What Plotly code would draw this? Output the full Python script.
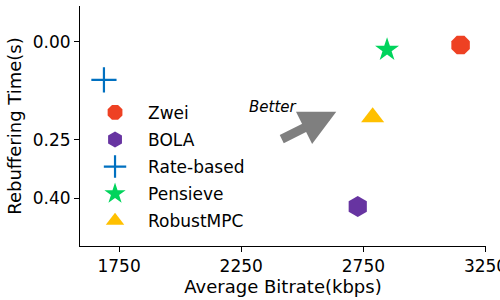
import plotly.graph_objects as go

methods = ["Zwei", "BOLA", "Rate-based", "Pensieve", "RobustMPC"]
bitrate = [3148, 2727, 1688, 2847, 2788]
rebuf = [0.008, 0.421, 0.097, 0.02, 0.193]
colors = ["#EE4123", "#6734A1", "#0070C0", "#00D45C", "#FFC000"]
symbols = ["octagon", "hexagon", "cross-thin", "star", "triangle-up"]
sizes = [20, 21, 18, 18, 20]

fig = go.Figure()
for i, m in enumerate(methods):
    if symbols[i] == "cross-thin":
        marker = dict(symbol="cross-thin", size=sizes[i], color=colors[i],
                      line=dict(color=colors[i], width=2.2))
    else:
        marker = dict(symbol=symbols[i], size=sizes[i], color=colors[i], line=dict(width=0))
    fig.add_trace(go.Scatter(x=[bitrate[i]], y=[rebuf[i]], mode="markers", name=m,
                             marker=marker, legendgroup=m))

font = dict(family="DejaVu Sans", size=15, color="black")

fig.add_annotation(x=2639, y=0.179, ax=-56, ay=28, xref="x", yref="y",
                   text="", showarrow=True, arrowhead=2, arrowsize=0.8,
                   arrowwidth=9, arrowcolor="#7f7f7f", standoff=0)
fig.add_annotation(x=2380, y=0.166, xref="x", yref="y", text="<i>Better</i>",
                   showarrow=False, font=dict(family="DejaVu Sans", size=15, color="black"))

fig.update_layout(
    width=500, height=300,
    margin=dict(l=80, r=14, t=6, b=54),
    paper_bgcolor="white", plot_bgcolor="white",
    font=font,
    showlegend=True,
    legend=dict(x=0.005, y=0.63, xanchor="left", yanchor="top",
                bgcolor="rgba(0,0,0,0)", font=dict(family="DejaVu Sans", size=17),
                tracegroupgap=2, itemsizing="trace", itemwidth=56),
    xaxis=dict(range=[1590, 3252], tickvals=[1750, 2250, 2750, 3250],
               showgrid=False, zeroline=False, showline=True, linecolor="black",
               linewidth=1, ticks="outside", ticklen=5, tickcolor="black",
               tickfont=dict(size=17), automargin=False, ticklabeloverflow="allow",
               title=dict(text="Average Bitrate(kbps)", standoff=4)),
    yaxis=dict(range=[0.5224, -0.092], tickvals=[0, 0.25, 0.40],
               ticktext=["0.00", "0.25", "0.40"],
               showgrid=False, zeroline=False, showline=True, linecolor="black",
               linewidth=1, ticks="outside", ticklen=5, tickcolor="black",
               tickfont=dict(size=17), automargin=False,
               title=dict(text="Rebuffering Time(s)", standoff=6)),
)

fig.write_html("out.html", config={"displayModeBar": False},
               post_script="document.body.style.margin='0';")
